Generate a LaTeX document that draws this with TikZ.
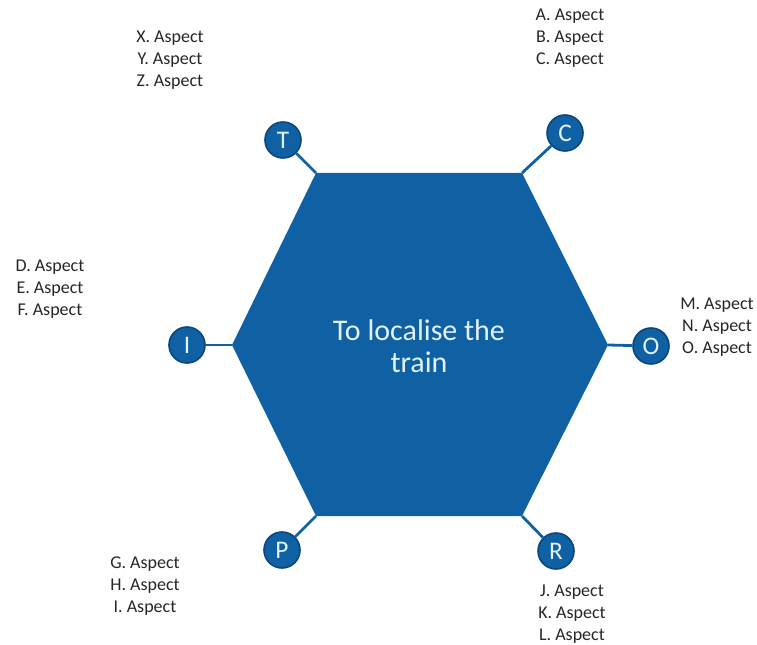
\documentclass[tikz,border=0pt]{standalone}
\usepackage{fontspec}
\setmainfont{Carlito}
\usepackage{tikz}
\usetikzlibrary{calc}
\definecolor{hexblue}{RGB}{16,97,163}
\definecolor{hexedge}{RGB}{10,70,125}
\definecolor{lettercol}{RGB}{225,242,255}
\tikzset{
	stepball/.style={circle, fill=hexblue, draw=hexedge, line width=1.2pt, minimum size=27pt, inner sep=0pt, text=lettercol, font=\fontsize{19}{19}\selectfont},
	spoke/.style={draw=hexblue, line width=2.1pt},
	aspects/.style={align=center, font=\fontsize{13.5}{16.5}\selectfont, text=black!85}
}

\begin{document}
\begin{tikzpicture}[x=0.75pt, y=-0.75pt]
		%%%%% START %%%%%
		\useasboundingbox (0, 0) rectangle (757, 645);
		
		% hexagon corners
		\coordinate (hTL) at (316, 173);
		\coordinate (hTR) at (522, 173);
		\coordinate (hR) at (608, 345);
		\coordinate (hBR) at (522, 516);
		\coordinate (hBL) at (316, 516);
		\coordinate (hL) at (232, 345);
		\fill[hexblue] (hTL) -- (hTR) -- (hR) -- (hBR) -- (hBL) -- (hL) -- cycle;
		
		\node[align=center, text=lettercol, font=\fontsize{22.5}{24}\selectfont] (goal) at (419, 346) {To localise the\\train};
		
		% letters round the hexagon
		\node[stepball] (T) at (283, 140) {T};
		\node[stepball] (C) at (565, 133) {C};
		\node[stepball] (I) at (187, 345) {I};
		\node[stepball] (O) at (651, 346) {O};
		\node[stepball] (P) at (282, 550) {P};
		\node[stepball] (R) at (556, 551) {R};
		
		\draw[spoke] (T) -- (hTL);
		\draw[spoke] (C) -- (hTR);
		\draw[spoke] (I) -- (hL);
		\draw[spoke] (O) -- (hR);
		\draw[spoke] (P) -- (hBL);
		\draw[spoke] (R) -- (hBR);
		
		% aspect lists
		\node[aspects] (xyz) at (170, 60) {X. Aspect\\Y. Aspect\\Z. Aspect};
		\node[aspects] (abc) at (570, 38) {A. Aspect\\B. Aspect\\C. Aspect};
		\node[aspects] (def) at (50, 289) {D. Aspect\\E. Aspect\\F. Aspect};
		\node[aspects] (mno) at (717, 327) {M. Aspect\\N. Aspect\\O. Aspect};
		\node[aspects] (ghi) at (145, 586) {G. Aspect\\H. Aspect\\I. Aspect};
		\node[aspects] (jkl) at (572, 614) {J. Aspect\\K. Aspect\\L. Aspect};
		%%%%% END %%%%%
	\end{tikzpicture}
\end{document}
